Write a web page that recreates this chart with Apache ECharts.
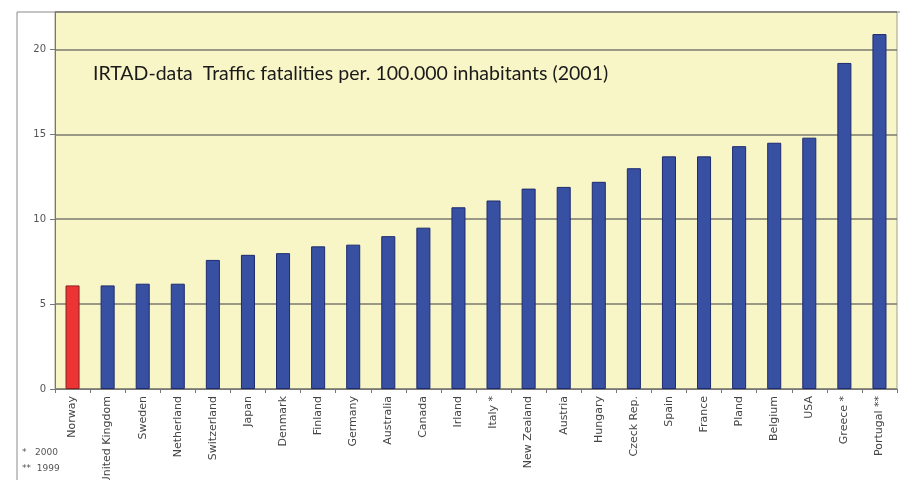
<!DOCTYPE html>
<html><head><meta charset="utf-8">
<script src="https://cdn.jsdelivr.net/npm/echarts@6/dist/echarts.min.js"></script>
<style>html,body{margin:0;padding:0;background:#fff}#c{width:900px;height:480px}</style>
</head><body><div id="c"></div>
<script>
const categories = ["Norway","United Kingdom","Sweden","Netherland","Switzerland","Japan","Denmark","Finland","Germany","Australia","Canada","Irland","Italy *","New Zealand","Austria","Hungary","Czeck Rep.","Spain","France","Pland","Belgium","USA","Greece *","Portugal **"];
const values = [6.1,6.1,6.2,6.2,7.6,7.9,8.0,8.4,8.5,9.0,9.5,10.7,11.1,11.8,11.9,12.2,13.0,13.7,13.7,14.3,14.5,14.8,19.2,20.9];
const highlight = "Norway";
const yTicks = [0,5,10,15,20];
const titleText = "IRTAD-data  Traffic fatalities per. 100.000 inhabitants (2001)";
const footnotes = ["*   2000", "**  1999"];

const chart = echarts.init(document.getElementById('c'));
chart.setOption({
  animation: false,
  backgroundColor: '#ffffff',
  grid: {left: 55, right: 3, top: 12, bottom: 91, outerBoundsMode: 'none', containLabel: false, show: true, backgroundColor: '#f8f5c6', borderColor: '#a0a090', borderWidth: 1},
  title: {text: titleText, left: 93, top: 64, padding: 0, textStyle: {fontFamily: 'Lato', fontWeight: 'normal', fontSize: 19.5, color: '#1a1a1a'}},
  graphic: [
    {type: 'rect', shape: {x: 17, y: 12, width: 890, height: 480}, style: {fill: 'none', stroke: '#8a8a8a', lineWidth: 1}, z: -1},
    {type: 'text', left: 22, top: 448, style: {text: footnotes[0], fontFamily: 'DejaVu Sans', fontSize: 9, fill: '#555'}},
    {type: 'text', left: 22, top: 464, style: {text: footnotes[1], fontFamily: 'DejaVu Sans', fontSize: 9, fill: '#555'}}
  ],
  xAxis: {
    type: 'category', data: categories,
    axisLine: {lineStyle: {color: '#777', width: 1}},
    axisTick: {show: true, length: 4, lineStyle: {color: '#777'}},
    axisLabel: {rotate: 90, interval: 0, fontFamily: 'DejaVu Sans', fontSize: 11, color: '#444', margin: 7}
  },
  yAxis: {
    type: 'value', min: 0, max: 22.2, interval: 5,
    axisLine: {show: true, lineStyle: {color: '#777'}},
    axisTick: {show: true, length: 5, lineStyle: {color: '#777'}},
    axisLabel: {showMaxLabel: false, fontFamily: 'DejaVu Sans', fontSize: 10, color: '#555', margin: 9,
      formatter: v => yTicks.includes(v) ? String(v) : ''},
    splitLine: {lineStyle: {color: '#7a7a70', width: 1.5}}
  },
  series: [{
    type: 'bar',
    barWidth: '40%',
    data: categories.map((c, i) => ({
      value: values[i],
      itemStyle: c === highlight
        ? {color: '#ec3434', borderColor: '#8a2020', borderWidth: 1}
        : {color: '#3850a2', borderColor: '#1d2a70', borderWidth: 1}
    }))
  }]
});
</script></body></html>
